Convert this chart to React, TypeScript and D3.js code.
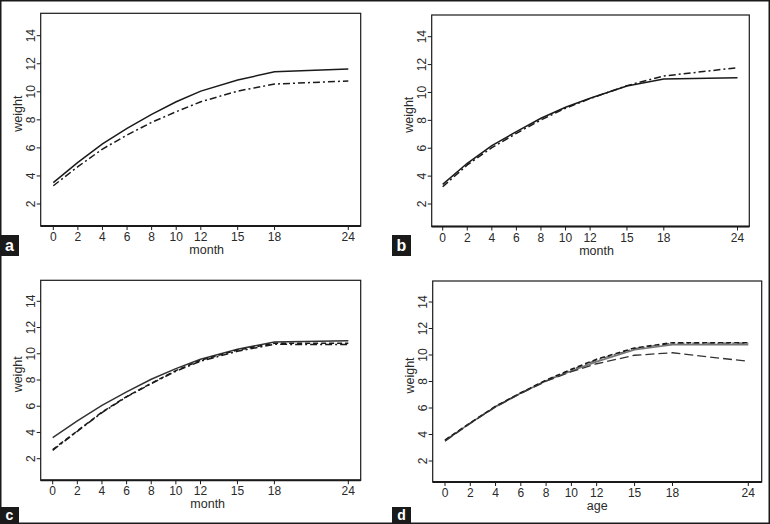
import React from "react";
import * as d3 from "d3";

const months = [0, 2, 4, 6, 8, 10, 12, 15, 18, 24];
const xTicks = [0, 2, 4, 6, 8, 10, 12, 15, 18, 24];
const yTicks = [2, 4, 6, 8, 10, 12, 14];

const aSolid = [3.52, 4.97, 6.28, 7.39, 8.39, 9.29, 10.05, 10.84, 11.43, 11.62];
const aDashDot = [3.30, 4.66, 5.92, 6.92, 7.82, 8.58, 9.29, 10.05, 10.55, 10.77];

const bSolid = [3.41, 4.92, 6.18, 7.19, 8.15, 8.94, 9.58, 10.46, 10.97, 11.06];
const bDashDot = [3.24, 4.80, 6.04, 7.07, 8.03, 8.87, 9.56, 10.49, 11.18, 11.78];

const cSolid = [3.60, 4.88, 6.07, 7.09, 8.06, 8.87, 9.58, 10.34, 10.90, 11.00];
const cDashDot = [2.64, 4.09, 5.51, 6.71, 7.72, 8.67, 9.43, 10.19, 10.72, 10.70];
const cDashed = [2.70, 4.12, 5.55, 6.74, 7.75, 8.72, 9.50, 10.28, 10.80, 10.80];

const dSolid = [3.54, 4.86, 6.10, 7.12, 8.05, 8.80, 9.50, 10.40, 10.78, 10.78];
const dDotted = [3.58, 4.88, 6.13, 7.15, 8.10, 8.92, 9.68, 10.53, 10.93, 10.93];
const dDashDot = [3.56, 4.87, 6.12, 7.14, 8.08, 8.88, 9.62, 10.48, 10.90, 10.90];
const dLongDash = [3.50, 4.84, 6.08, 7.10, 8.02, 8.74, 9.34, 9.98, 10.17, 9.52];

type Series = { values: number[]; dash: string; color: string; width: number };

const styles = {
  solid: "",
  dashDot: "7,3,2,3",
  dashed: "5,3",
  longDash: "9,4",
};

const panels = [
  {
    label: "a", xTitle: "month",
    box: [40.7, 13.3, 360.7, 226], x0: 53.3, x24: 348.3, y2: 204, y14: 35.7,
    lab: [0, 235, 21], titleDx: 6,
    series: [
      { values: aSolid, dash: styles.solid, color: "#1a1a1a", width: 1.5 },
      { values: aDashDot, dash: styles.dashDot, color: "#1a1a1a", width: 1.5 },
    ] as Series[],
  },
  {
    label: "b", xTitle: "month",
    box: [431.7, 15, 749.3, 226.5], x0: 442.7, x24: 737.5, y2: 204, y14: 36.7,
    lab: [392, 235, 21], titleDx: 6,
    series: [
      { values: bSolid, dash: styles.solid, color: "#1a1a1a", width: 1.5 },
      { values: bDashDot, dash: styles.dashDot, color: "#1a1a1a", width: 1.5 },
    ] as Series[],
  },
  {
    label: "c", xTitle: "month",
    box: [40.7, 280.3, 360.7, 480.3], x0: 52.7, x24: 348.3, y2: 458.7, y14: 301.3,
    lab: [0, 507, 16], titleDx: 7,
    series: [
      { values: cSolid, dash: styles.solid, color: "#333", width: 1.5 },
      { values: cDashed, dash: styles.dashed, color: "#1a1a1a", width: 1.5 },
      { values: cDashDot, dash: styles.dashDot, color: "#1a1a1a", width: 1.5 },
    ] as Series[],
  },
  {
    label: "d", xTitle: "age",
    box: [432.7, 281, 761.7, 482], x0: 445, x24: 748.3, y2: 461, y14: 302,
    lab: [392, 507, 16], titleDx: 0,
    series: [
      { values: dSolid, dash: styles.solid, color: "#777", width: 1.6 },
      { values: dDashDot, dash: styles.dashDot, color: "#555", width: 1.2 },
      { values: dDotted, dash: styles.dashed, color: "#1a1a1a", width: 1.6 },
      { values: dLongDash, dash: styles.longDash, color: "#333", width: 1.3 },
    ] as Series[],
  },
];

const font = "'Liberation Sans', Arial, sans-serif";
const txt = "#2a2a2a";

function Panel({ p }: { p: (typeof panels)[number] }) {
  const [l, t, r, b] = p.box;
  const x = d3.scaleLinear().domain([0, 24]).range([p.x0, p.x24]);
  const y = d3.scaleLinear().domain([2, 14]).range([p.y2, p.y14]);
  const line = d3
    .line<[number, number]>()
    .x((d) => x(d[0]))
    .y((d) => y(d[1]));
  const midY = (t + b) / 2 - 6;
  const [lx, ly, lh] = p.lab;
  return (
    <g>
      <rect x={l} y={t} width={r - l} height={b - t} fill="none" stroke="#1a1a1a" strokeWidth={1.2} />
      <line x1={l} x2={r} y1={b} y2={b} stroke="#1a1a1a" strokeWidth={2} />
      {p.series.map((s, i) => (
        <path
          key={i}
          d={line(months.map((m, j) => [m, s.values[j]] as [number, number])) || ""}
          fill="none"
          stroke={s.color}
          strokeWidth={s.width}
          strokeDasharray={s.dash || undefined}
        />
      ))}
      {yTicks.map((v) => (
        <g key={v}>
          <line x1={l - 4} x2={l} y1={y(v)} y2={y(v)} stroke="#1a1a1a" strokeWidth={1} />
          <text
            transform={`translate(${l - 6},${y(v)}) rotate(-90)`}
            textAnchor="middle"
            fontFamily={font}
            fontSize={12}
            fill={txt}
          >
            {v}
          </text>
        </g>
      ))}
      {xTicks.map((v) => (
        <g key={v}>
          <line x1={x(v)} x2={x(v)} y1={b} y2={b + 4} stroke="#1a1a1a" strokeWidth={1} />
          <text x={x(v)} y={b + 15} textAnchor="middle" fontFamily={font} fontSize={12} fill={txt}>
            {v}
          </text>
        </g>
      ))}
      <text
        transform={`translate(${l - 19},${midY}) rotate(-90)`}
        textAnchor="middle"
        fontFamily={font}
        fontSize={12.5}
        fill={txt}
      >
        weight
      </text>
      <text x={(l + r) / 2 + p.titleDx} y={b + 28} textAnchor="middle" fontFamily={font} fontSize={12.5} fill={txt}>
        {p.xTitle}
      </text>
      <rect x={lx} y={ly} width={19} height={lh} fill="#1a1a1a" />
      <text
        x={lx + 9.5}
        y={ly + (lh > 18 ? 16 : 13)}
        textAnchor="middle"
        fontFamily={font}
        fontSize={lh > 18 ? 16 : 14}
        fontWeight="bold"
        fill="#fff"
      >
        {p.label}
      </text>
    </g>
  );
}

export default function App() {
  return (
    <svg
      width={770}
      height={524}
      style={{ position: "absolute", left: 0, top: 0, background: "#fff" }}
    >
      <rect x={0} y={0} width={770} height={524} fill="#fff" />
      {panels.map((p) => (
        <Panel key={p.label} p={p} />
      ))}
      <rect x={0.75} y={0.75} width={768.5} height={522.5} fill="none" stroke="#1a1a1a" strokeWidth={1.5} />
    </svg>
  );
}
